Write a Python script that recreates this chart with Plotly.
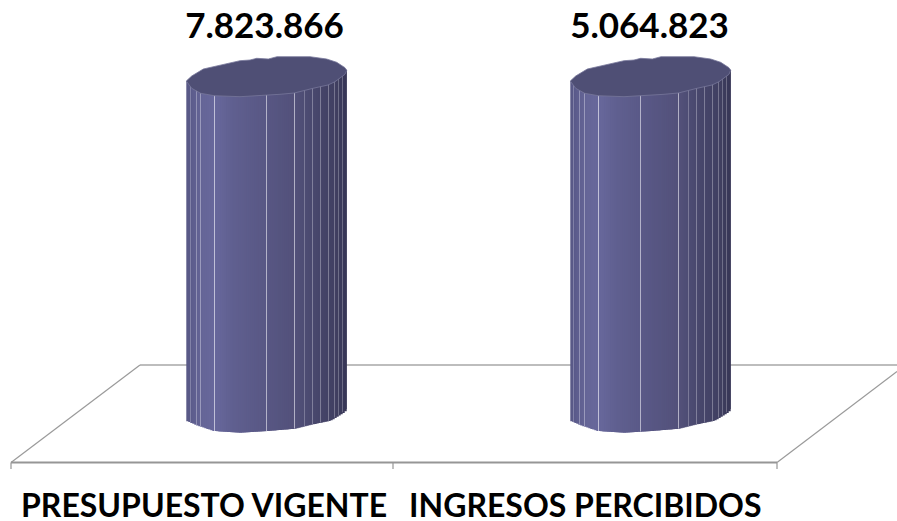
import numpy as np
import plotly.graph_objects as go

# ---- data ----
categories = ["PRESUPUESTO VIGENTE", "INGRESOS PERCIBIDOS"]
value_labels = ["7.823.866", "5.064.823"]
cylinder_heights = [100, 100]   # both cylinders are drawn at the same height in the reference

# ---- scale set-up: one x unit = category spacing, 100 y units = cylinder height ----
W, H = 897, 521
X0, DX = 266.5, 383.8      # pixel of category 0, pixel spacing
Y0, DY = 420.7, 3.397      # pixel of y=0, pixels per y unit
x_range = [(0 - X0) / DX, (W - X0) / DX]
y_range = [(Y0 - H) / DY, (Y0 - 0) / DY]
px_x = lambda p: (np.asarray(p, float) - X0) / DX
px_y = lambda p: (Y0 - np.asarray(p, float)) / DY

# facet lines of each cylinder and their strength
facets = [
    [(190, 0.25), (196, 0.33), (200, 0.38), (214, 0.65), (266, 0.6), (294, 0.6),
     (304, 0.28), (312, 0.33), (320, 0.33), (328, 0.33), (334, 0.3), (338, 0.28), (342, 0.28)],
    [(573, 0.25), (579, 0.33), (584, 0.38), (598, 0.65), (640, 0.6), (678, 0.6),
     (688, 0.28), (696, 0.33), (704, 0.33), (712, 0.33), (718, 0.3), (722, 0.28), (726, 0.28)],
]
lefts = [186.3, 570.3]
width_px = 160.4
label_px = [264.5, 649.5]
category_px = [203.5, 585.5]

# body shading and outline, as functions of the fraction across the cylinder
shade_u = [0.0, 0.03, 0.09, 0.17, 0.28, 0.50, 0.67, 0.80, 0.92, 0.975, 1.0]
shade_r = [0x58, 0x5e, 0x66, 0x68, 0x60, 0x58, 0x53, 0x48, 0x41, 0x39, 0x35]
shade_g = [0x58, 0x5e, 0x66, 0x68, 0x60, 0x57, 0x51, 0x47, 0x40, 0x38, 0x34]
shade_b = [0x86, 0x8e, 0x98, 0x9c, 0x90, 0x84, 0x7a, 0x6c, 0x62, 0x58, 0x52]

bottom_u = [0.0, 0.06, 0.17, 0.33, 0.50, 0.67, 0.79, 0.89, 0.97, 1.0]
bottom_px = [420.7, 425, 431, 432.7, 431, 428.7, 424, 420.7, 413, 408]

cap_dx = [0, 5.4, 17, 36.7, 53.7, 63.7, 70.4, 82, 90.7, 123.7, 140.4, 150.4, 158.7, 160.4,
          158.7, 148.7, 141.7, 126.7, 108, 93.7, 80.4, 53.7, 28, 14.4, 5.4, 0]
cap_py = [81, 76, 69, 64.3, 60.7, 60, 58.3, 59, 56.7, 56.7, 59, 62.3, 67.7, 70.3,
          74.3, 81.7, 85, 88.3, 93, 94.3, 95, 96.7, 95.7, 93.3, 88.3, 81]


def mix(frac, base, light=(0xf0, 0xf0, 0xf8)):
    return "rgb(%d,%d,%d)" % tuple(b + (l - b) * frac for b, l in zip(base, light))


fig = go.Figure()

for i, height in enumerate(cylinder_heights):
    # strips of the body: each one overlaps the next so no gap can show
    n = 80
    step = width_px / n
    lefts_px = lefts[i] + np.arange(n) * step
    widths_px = np.minimum(step * 2, lefts[i] + width_px - lefts_px)
    mids = (np.arange(n) + 0.5) / n
    base = px_y(np.interp(mids, bottom_u, bottom_px))
    top = height * (1 + 0.033 * mids)
    cols = ["rgb(%d,%d,%d)" % (np.interp(u, shade_u, shade_r),
                               np.interp(u, shade_u, shade_g),
                               np.interp(u, shade_u, shade_b)) for u in mids]
    order = np.arange(n)[::-1]   # drawn right to left, so each left edge stays visible
    fig.add_trace(go.Bar(x=px_x(lefts_px + widths_px / 2)[order], y=(top - base)[order], base=base[order],
                         width=(widths_px / DX)[order],
                         marker=dict(color=[cols[k] for k in order], line_width=0, opacity=1),
                         hoverinfo="skip"))
    # light facet lines
    fx = np.array([f[0] for f in facets[i]], float) + 0.5
    fu = (fx - lefts[i]) / width_px
    fbase = px_y(np.interp(fu, bottom_u, bottom_px))
    ftop = height * (1 + 0.033 * fu)
    fcols = []
    for u, f in zip(fu, facets[i]):
        b = (np.interp(u, shade_u, shade_r), np.interp(u, shade_u, shade_g), np.interp(u, shade_u, shade_b))
        fcols.append(mix(f[1], b))
    fig.add_trace(go.Bar(x=px_x(fx), y=ftop - fbase, base=fbase, width=0.9 / DX,
                         marker=dict(color=fcols, line_width=0, opacity=1), hoverinfo="skip"))
    # top cap
    fig.add_trace(go.Scatter(x=px_x(lefts[i] + np.array(cap_dx)), y=px_y(cap_py), mode="lines",
                             fill="toself", fillcolor="#4f4f75",
                             line=dict(color="#77779a", width=0.8), hoverinfo="skip"))
    # value label, well above the cap
    fig.add_trace(go.Scatter(x=[float(px_x(label_px[i]))], y=[float(px_y(29))], mode="text",
                             text=["<b>%s</b>" % value_labels[i]], textposition="middle center",
                             textfont=dict(family="Lato", size=35, color="#000000"), hoverinfo="skip"))

# floor of the 3-D box, behind the cylinders
floor = [
    (140, 365, 897, 365, "#bdbdbd", 2),
    (140, 365, 11, 462.5, "#9a9a9a", 1.2),
    (11, 462.5, 777, 462.5, "#969696", 2),
    (777, 462.5, 897, 371.5, "#9a9a9a", 1.2),
    (11, 462.5, 11, 469, "#969696", 1.2),
    (393, 462.5, 393, 469, "#969696", 1.2),
    (777, 462.5, 777, 469, "#969696", 1.2),
]
shapes = [dict(type="line", xref="x", yref="y", layer="below",
               x0=float(px_x(a)), y0=float(px_y(b)), x1=float(px_x(c)), y1=float(px_y(d)),
               line=dict(color=col, width=w)) for a, b, c, d, col, w in floor]

annotations = [dict(x=float(px_x(p)), y=float(px_y(504)), xref="x", yref="y", text="<b>%s</b>" % c,
                    showarrow=False, xanchor="center", yanchor="middle",
                    font=dict(family="Lato", size=32, color="#000000"))
               for p, c in zip(category_px, categories)]

fig.update_layout(
    width=W, height=H, autosize=False,
    margin=dict(l=0, r=0, t=0, b=0),
    paper_bgcolor="#ffffff", plot_bgcolor="#ffffff",
    barmode="overlay", showlegend=False, hovermode=False,
    shapes=shapes, annotations=annotations,
    xaxis=dict(range=x_range, visible=False, fixedrange=True),
    yaxis=dict(range=y_range, visible=False, fixedrange=True),
)
fig.write_html("out.html", config={"displayModeBar": False},
               post_script="document.body.style.margin='0';")
